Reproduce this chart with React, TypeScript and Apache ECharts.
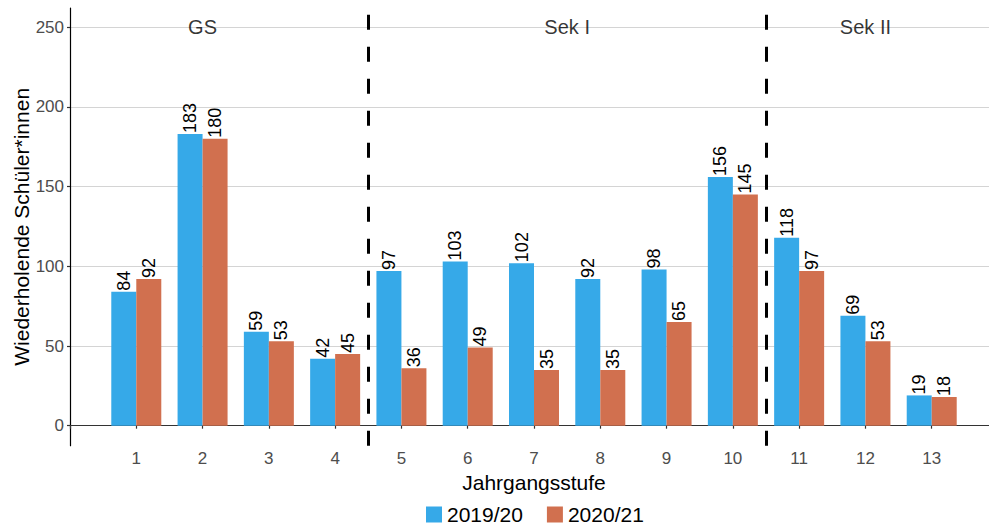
import React, { useEffect, useRef } from "react";
import * as echarts from "echarts";

const grades = [1, 2, 3, 4, 5, 6, 7, 8, 9, 10, 11, 12, 13];
const values1920 = [84, 183, 59, 42, 97, 103, 102, 92, 98, 156, 118, 69, 19];
const values2021 = [92, 180, 53, 45, 36, 49, 35, 35, 65, 145, 97, 53, 18];
const seriesNames = ["2019/20", "2020/21"];
const sectionNames = ["GS", "Sek I", "Sek II"];
const sectionCenters = [2, 7.5, 12];
const sectionLabelY = 250;
const sectionBoundaries = [4.5, 10.5];
const yTicks = [0, 50, 100, 150, 200, 250];

const FONT = "'Liberation Sans', Arial, Helvetica, sans-serif";
const BLUE = "#36A9E8";
const ORANGE = "#D1704F";

export default function App() {
  const ref = useRef<HTMLDivElement>(null);
  useEffect(() => {
    if (!ref.current) return;
    const chart = echarts.init(ref.current, null, { renderer: "svg" });
    const barLabel = {
      show: true,
      position: "top" as const,
      rotate: 90,
      align: "left" as const,
      verticalAlign: "middle" as const,
      distance: 1,
      fontSize: 18,
      fontFamily: FONT,
      color: "#000",
    };
    const option: any = {
      animation: false,
      textStyle: { fontFamily: FONT },
      legend: {
        data: seriesNames,
        left: 421,
        top: 499,
        itemWidth: 16,
        itemHeight: 16,
        itemGap: 24,
        icon: "rect",
        textStyle: { fontSize: 21, color: "#000", fontFamily: FONT },
      },
      grid: [
        { left: 70, right: -9, top: 8, bottom: 80.3, outerBoundsMode: "none", containLabel: false },
        { left: 70, right: -9, top: 27.3, bottom: 100.3, outerBoundsMode: "none", containLabel: false },
      ],
      xAxis: [
        {
          type: "value",
          gridIndex: 0,
          min: 0,
          max: 14,
          interval: 1,
          splitLine: { show: false },
          axisLine: { show: true, lineStyle: { color: "#333", width: 1.2 } },
          axisTick: { show: true, length: 3, lineStyle: { color: "#333", width: 1.2 } },
          axisLabel: {
            fontSize: 17,
            color: "#4d4d4d",
            margin: 4,
            fontFamily: FONT,
            formatter: (v: number) => (grades.indexOf(v) >= 0 ? String(v) : ""),
          },
          name: "Jahrgangsstufe",
          nameLocation: "middle",
          nameGap: 26,
          nameTextStyle: { fontSize: 21, color: "#000", fontFamily: FONT },
        },
        {
          type: "value",
          gridIndex: 1,
          min: 0,
          max: 14,
          show: false,
        },
      ],
      yAxis: [
        {
          type: "value",
          gridIndex: 0,
          min: -12.55,
          max: 262.1,
          splitLine: { show: false },
          axisLine: { show: true, lineStyle: { color: "#000", width: 1.2 } },
          axisTick: { show: false },
          axisLabel: { show: false },
          name: "Wiederholende Schüler*innen",
          nameLocation: "middle",
          nameGap: 38,
          nameTextStyle: { fontSize: 21, color: "#000", fontFamily: FONT },
        },
        {
          type: "value",
          gridIndex: 1,
          min: yTicks[0],
          max: yTicks[yTicks.length - 1],
          interval: 50,
          axisLine: { show: false },
          axisTick: { show: true, length: 3, lineStyle: { color: "#333", width: 1.2 } },
          splitLine: { show: true, lineStyle: { color: "#d4d4d4", width: 1.2 } },
          axisLabel: { fontSize: 17, color: "#4d4d4d", margin: 6, fontFamily: FONT },
        },
      ],
      series: [
        {
          name: seriesNames[0],
          type: "bar",
          xAxisIndex: 0,
          yAxisIndex: 0,
          barWidth: 25,
          barGap: "0%",
          itemStyle: { color: BLUE },
          label: barLabel,
          data: grades.map((g, i) => [g, values1920[i]]),
        },
        {
          name: seriesNames[1],
          type: "bar",
          xAxisIndex: 0,
          yAxisIndex: 0,
          barWidth: 25,
          barGap: "0%",
          itemStyle: { color: ORANGE },
          label: barLabel,
          data: grades.map((g, i) => [g, values2021[i]]),
        },
        {
          name: "sections",
          type: "scatter",
          xAxisIndex: 0,
          yAxisIndex: 0,
          symbolSize: 1,
          z: 5,
          itemStyle: { color: "transparent" },
          label: {
            show: true,
            position: "inside",
            formatter: (p: any) => p.name,
            fontSize: 20,
            color: "#000",
            fontFamily: FONT,
          },
          data: sectionNames.map((n, i) => ({ name: n, value: [sectionCenters[i], sectionLabelY] })),
          markLine: {
            silent: true,
            symbol: "none",
            label: { show: false },
            lineStyle: { color: "#000", width: 3, type: [15, 17] },
            data: sectionBoundaries.map((b) => ({ xAxis: b })),
          },
        },
      ],
    };
    chart.setOption(option);
    return () => chart.dispose();
  }, []);
  return (
    <div
      ref={ref}
      style={{ position: "fixed", left: 0, top: 0, width: 989, height: 526, background: "#fff" }}
    />
  );
}
